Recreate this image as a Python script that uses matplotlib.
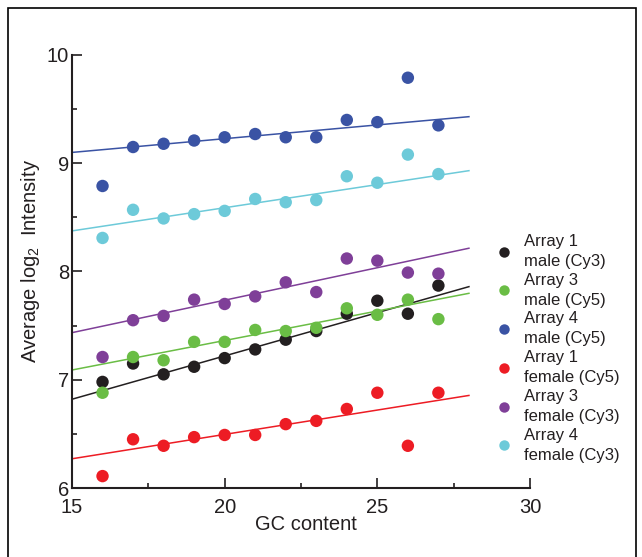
import matplotlib
matplotlib.use('Agg')
import numpy as np
from matplotlib import pyplot as plt
from matplotlib.lines import Line2D
from matplotlib.patches import Rectangle

plt.rcParams['font.family'] = ['Liberation Sans', 'DejaVu Sans']
plt.rcParams['mathtext.default'] = 'regular'

gc_content = [16, 17, 18, 19, 20, 21, 22, 23, 24, 25, 26, 27]

series_labels = [
	'Array 1\nmale (Cy3)',
	'Array 3\nmale (Cy5)',
	'Array 4\nmale (Cy5)',
	'Array 1\nfemale (Cy5)',
	'Array 3\nfemale (Cy3)',
	'Array 4\nfemale (Cy3)',
]
series_colors = ['#231f20', '#6abd45', '#3a53a4', '#ed1c24', '#7f3f98', '#6dcad9']

array1_male = [6.98, 7.15, 7.05, 7.12, 7.20, 7.28, 7.37, 7.45, 7.61, 7.73, 7.61, 7.87]
array3_male = [6.88, 7.21, 7.18, 7.35, 7.35, 7.46, 7.45, 7.48, 7.66, 7.60, 7.74, 7.56]
array4_male = [8.79, 9.15, 9.18, 9.21, 9.24, 9.27, 9.24, 9.24, 9.40, 9.38, 9.79, 9.35]
array1_female = [6.11, 6.45, 6.39, 6.47, 6.49, 6.49, 6.59, 6.62, 6.73, 6.88, 6.39, 6.88]
array3_female = [7.21, 7.55, 7.59, 7.74, 7.70, 7.77, 7.90, 7.81, 8.12, 8.10, 7.99, 7.98]
array4_female = [8.31, 8.57, 8.49, 8.53, 8.56, 8.67, 8.64, 8.66, 8.88, 8.82, 9.08, 8.90]

# regression lines as drawn in the figure: value at GC=15 and slope
fit_intercepts = [6.82, 7.09, 9.10, 6.27, 7.435, 8.375]
fit_slopes = [0.080, 0.0545, 0.0254, 0.045, 0.060, 0.0428]
fit_range = [15, 28]


def plot_chart(output='out.png'):
	series = [array1_male, array3_male, array4_male, array1_female, array3_female, array4_female]

	fig = plt.figure(figsize=(6.42, 5.57), dpi=100)
	ax = fig.add_axes([72 / 642, 1 - 488 / 557, 458 / 642, 433 / 557])

	xs = np.array(fit_range, dtype=float)
	for values, color, b, m in zip(series, series_colors, fit_intercepts, fit_slopes):
		ax.plot(xs, b + m * (xs - 15), color=color, lw=1.1, zorder=2)
		ax.scatter(gc_content, values, s=80, color=color, edgecolors='none', zorder=3, clip_on=False)

	ax.set_xlim(15, 30)
	ax.set_ylim(6, 10)
	ax.set_xticks([15, 20, 25, 30])
	ax.set_xticks([17.5, 22.5, 27.5], minor=True)
	ax.set_yticks([6, 7, 8, 9, 10])
	ax.set_yticks([6.5, 7.5, 8.5, 9.5], minor=True)

	for side in ('top', 'right'):
		ax.spines[side].set_visible(False)
	for side in ('left', 'bottom'):
		ax.spines[side].set_linewidth(1.5)
		ax.spines[side].set_color('#231f20')

	ax.tick_params(which='major', direction='in', length=7, width=1.2, colors='#231f20', labelsize=14.5)
	ax.tick_params(which='minor', direction='in', length=3.5, width=1.2, colors='#231f20')
	ax.tick_params(axis='x', pad=7)
	ax.tick_params(axis='y', pad=2)

	ax.set_xlabel('GC content', fontsize=14.5, color='#231f20', labelpad=-1)
	ax.xaxis.label.set_x(0.51)
	ax.set_ylabel('Average log$_2$  Intensity', fontsize=14.5, color='#231f20', va='center')
	ax.yaxis.set_label_coords(-0.09, 0.524)

	handles = [
		Line2D([], [], ls='none', marker='o', markersize=7.5, markerfacecolor=c, markeredgecolor='none')
		for c in series_colors
	]
	leg = fig.legend(
		handles, series_labels,
		loc='upper left', bbox_to_anchor=(496 / 642, 1 - 234 / 557),
		frameon=False, fontsize=12, handlelength=1.0, handletextpad=0.65,
		labelspacing=0.22, borderpad=0, borderaxespad=0, labelcolor='#231f20'
	)
	for t in leg.get_texts():
		t.set_linespacing(1.42)

	fig.patches.append(Rectangle(
		(8 / 642, -0.05), 628 / 642, 1.05 - 8 / 557,
		transform=fig.transFigure, fill=False, lw=1.2, edgecolor='black'
	))

	fig.savefig(output, dpi=100)


if __name__ == '__main__':
	plot_chart()
